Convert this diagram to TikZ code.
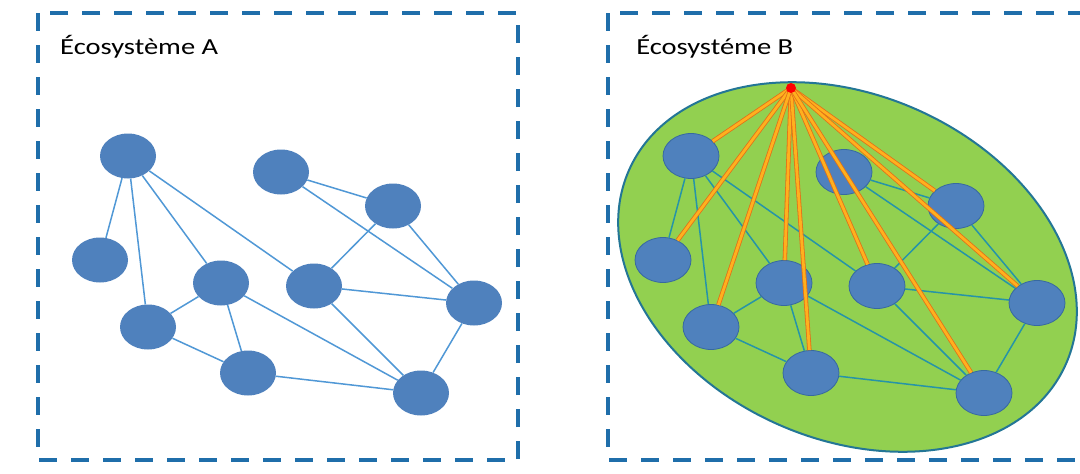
\documentclass[tikz,border=0pt]{standalone}
\usepackage{fontspec}
\setmainfont{Carlito}
\usetikzlibrary{shapes.geometric}
\definecolor{framecol}{RGB}{31,110,170}
\definecolor{nodeblue}{RGB}{79,129,189}
\definecolor{nodeedge}{RGB}{55,105,160}
\definecolor{edgeA}{RGB}{80,152,214}
\definecolor{edgeB}{RGB}{38,148,168}
\definecolor{ecogreen}{RGB}{146,208,80}
\definecolor{ecoborder}{RGB}{35,118,150}
\definecolor{orangein}{RGB}{255,176,30}
\definecolor{orangeout}{RGB}{226,112,24}
\tikzset{
  frame/.style={draw=framecol, line width=3.5pt, dash pattern=on 18pt off 14pt},
  eco/.style={ellipse, fill=nodeblue, minimum width=56pt, minimum height=45pt, inner sep=0pt},
  ecoB/.style={eco, draw=nodeedge, line width=0.8pt},
  linkA/.style={draw=edgeA, line width=1.5pt},
  linkB/.style={draw=edgeB, line width=1.5pt},
  ray/.style={draw=orangeout, line width=0.8pt, double=orangein, double distance=2.8pt},
  title/.style={anchor=base west, inner sep=0pt, xscale=1.24, text=black,
    font=\fontsize{23}{28}\selectfont},
}
\begin{document}
\begin{tikzpicture}[x=1pt, y=-1pt]
\useasboundingbox (0,0) rectangle (1080,474);
\clip (0,0) rectangle (1080,474);
\fill[white] (0,0) rectangle (1080,474);
% frames
\draw[frame] (38,13) rectangle (518,460);
\draw[frame] (608,13) rectangle (1120,460);
\node[title] (ta) at (60,54) {Écosystème A};
\node[title] (tb) at (636,54) {Écosystéme B};
% green ellipse
\draw[fill=ecogreen, draw=ecoborder, line width=2pt, shift={(847.5,267)}, rotate=-24]
  (0,0) ellipse [x radius=239pt, y radius=172pt];
% nodes
\foreach \n/\x/\y in {1/128/156, 2/281/172, 3/100/260, 4/393/206, 5/221/283,
  6/314/286, 7/148/327, 8/474/303, 9/248/373, 10/421/393}{
  \node[eco] (a\n) at (\x,\y) {};
  \node[ecoB] (b\n) at (\x+563,\y) {};
}
% links
\foreach \p/\q in {1/3, 1/7, 1/5, 1/6, 2/4, 2/8, 4/6, 4/8, 6/8, 6/10, 5/7, 5/9, 5/10, 7/9, 9/10, 8/10}{
  \draw[linkA] (a\p) -- (a\q);
  \draw[linkB] (b\p) -- (b\q);
}
% rays
\coordinate (apex) at (791,88);
\foreach \t in {1,4,8,5,9,6,10,3,7}{
  \draw[ray] (apex) -- (b\t);
}
\fill[red] (apex) circle (5pt);
\end{tikzpicture}
\end{document}
